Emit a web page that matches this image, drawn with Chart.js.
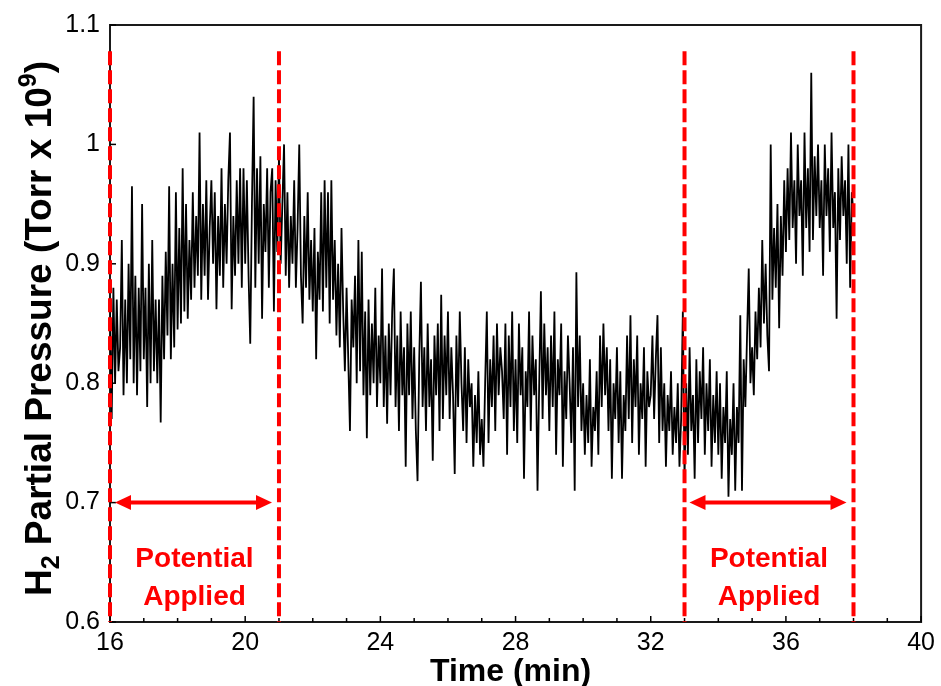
<!DOCTYPE html>
<html>
<head>
<meta charset="utf-8">
<script src="https://cdn.jsdelivr.net/npm/chart.js@4.4.1/dist/chart.umd.min.js"></script>
<style>
html, body { margin: 0; padding: 0; background: #fff; }
#wrap { width: 941px; height: 686px; position: relative; }
</style>
</head>
<body>
<div id="wrap"><canvas id="c"></canvas></div>
<script>
// ---------- data ----------
const sampleStartMin = 16;
const sampleStepMin = 0.05;
const pressure = [
  // 16
  0.86, 0.77, 0.88, 0.80, 0.87, 0.81, 0.83, 0.92, 0.79, 0.87, 0.80, 0.90, 0.82, 0.965, 0.80, 0.89, 0.79, 0.88, 0.81, 0.95,
  // 17
  0.82, 0.88, 0.78, 0.90, 0.80, 0.92, 0.81, 0.87, 0.80, 0.87, 0.767, 0.89, 0.82, 0.91, 0.84, 0.965, 0.82, 0.90, 0.83, 0.96,
  // 18
  0.845, 0.93, 0.85, 0.98, 0.86, 0.95, 0.854, 0.92, 0.87, 0.96, 0.88, 0.94, 0.89, 1.01, 0.87, 0.95, 0.89, 0.97, 0.87, 0.93,
  // 19
  0.97, 0.90, 0.96, 0.862, 0.94, 0.89, 0.98, 0.88, 0.95, 0.90, 0.97, 1.01, 0.862, 0.94, 0.89, 0.97, 0.90, 0.98, 0.88, 0.98,
  // 20
  0.90, 0.97, 0.89, 0.833, 0.95, 1.04, 0.88, 0.98, 0.90, 0.99, 0.854, 0.95, 0.91, 0.98, 0.88, 0.96, 0.98, 0.86, 0.97, 0.91,
  // 21
  0.99, 0.90, 0.95, 1.00, 0.89, 0.96, 0.88, 0.94, 0.90, 0.97, 0.88, 0.93, 1.00, 0.89, 0.85, 0.94, 0.88, 0.96, 0.87, 0.92,
  // 22
  0.86, 0.93, 0.82, 0.91, 0.87, 0.96, 0.86, 0.97, 0.88, 0.96, 0.85, 0.97, 0.87, 0.92, 0.84, 0.90, 0.83, 0.93, 0.86, 0.81,
  // 23
  0.88, 0.82, 0.76, 0.87, 0.83, 0.89, 0.80, 0.92, 0.81, 0.91, 0.79, 0.86, 0.754, 0.87, 0.79, 0.85, 0.80, 0.88, 0.78, 0.84,
  // 24
  0.80, 0.896, 0.78, 0.84, 0.766, 0.85, 0.79, 0.86, 0.896, 0.78, 0.84, 0.76, 0.86, 0.79, 0.83, 0.73, 0.85, 0.79, 0.86, 0.77,
  // 25
  0.83, 0.76, 0.718, 0.82, 0.885, 0.78, 0.83, 0.76, 0.85, 0.78, 0.82, 0.735, 0.84, 0.79, 0.85, 0.76, 0.874, 0.77, 0.84, 0.79,
  // 26
  0.86, 0.77, 0.83, 0.79, 0.724, 0.84, 0.78, 0.86, 0.80, 0.76, 0.83, 0.75, 0.82, 0.78, 0.80, 0.73, 0.79, 0.75, 0.81, 0.74,
  // 27
  0.77, 0.73, 0.80, 0.86, 0.75, 0.82, 0.78, 0.84, 0.76, 0.85, 0.79, 0.83, 0.81, 0.77, 0.85, 0.74, 0.84, 0.78, 0.86, 0.76,
  // 28
  0.82, 0.75, 0.85, 0.79, 0.83, 0.72, 0.81, 0.78, 0.86, 0.76, 0.84, 0.79, 0.82, 0.71, 0.80, 0.877, 0.77, 0.85, 0.79, 0.83,
  // 29
  0.76, 0.84, 0.78, 0.86, 0.74, 0.82, 0.79, 0.85, 0.73, 0.81, 0.77, 0.84, 0.80, 0.75, 0.83, 0.71, 0.893, 0.78, 0.84, 0.76,
  // 30
  0.80, 0.74, 0.79, 0.75, 0.82, 0.73, 0.78, 0.76, 0.81, 0.74, 0.84, 0.78, 0.85, 0.79, 0.83, 0.76, 0.82, 0.72, 0.80, 0.77,
  // 31
  0.83, 0.75, 0.81, 0.72, 0.79, 0.76, 0.84, 0.77, 0.857, 0.75, 0.82, 0.78, 0.84, 0.74, 0.80, 0.77, 0.83, 0.73, 0.81, 0.78,
  // 32
  0.79, 0.84, 0.77, 0.82, 0.857, 0.75, 0.83, 0.76, 0.80, 0.73, 0.79, 0.76, 0.81, 0.74, 0.78, 0.75, 0.80, 0.73, 0.77, 0.86,
  // 33
  0.72, 0.80, 0.74, 0.83, 0.76, 0.79, 0.72, 0.82, 0.75, 0.81, 0.77, 0.83, 0.74, 0.80, 0.76, 0.82, 0.73, 0.79, 0.75, 0.81,
  // 34
  0.74, 0.80, 0.72, 0.78, 0.75, 0.81, 0.705, 0.77, 0.74, 0.80, 0.71, 0.78, 0.75, 0.857, 0.71, 0.82, 0.78, 0.84, 0.896, 0.80,
  // 35
  0.83, 0.79, 0.86, 0.82, 0.88, 0.83, 0.92, 0.85, 0.90, 0.84, 0.81, 1.00, 0.87, 0.93, 0.88, 0.95, 0.846, 0.94, 0.89, 0.97,
  // 36
  0.91, 0.98, 0.92, 1.01, 0.93, 0.97, 0.90, 1.00, 0.94, 0.97, 0.89, 1.01, 0.93, 0.98, 0.91, 1.06, 0.92, 0.99, 0.94, 1.00,
  // 37
  0.93, 0.97, 0.89, 1.00, 0.94, 0.98, 0.91, 1.01, 0.93, 0.96, 0.854, 0.98, 0.92, 0.99, 0.94, 0.97, 0.90, 1.00, 0.88, 0.96,
  // 38
  0.94
];
const potentialStart = [16, 33];
const potentialEnd = [21, 38];
const markerTop = 1.078;
const arrowLevel = 0.7;
const annotationLines = ['Potential', 'Applied'];
const xRange = [16, 40];
const xMajorStep = 4;
const xMinorStep = 1;
const yRange = [0.6, 1.1];
const yMajorStep = 0.1;
const xTitle = 'Time (min)';
const yTitleParts = [
  { t: 'H', kind: 'main' },
  { t: '2', kind: 'sub' },
  { t: ' Partial Pressure (Torr x 10', kind: 'main' },
  { t: '9', kind: 'sup' },
  { t: ')', kind: 'main' }
];

// ---------- build datasets ----------
const seriesPoints = pressure.map((v, i) => ({ x: sampleStartMin + i * sampleStepMin, y: v }));
const RED = '#ff0000';
const FONT = '"Liberation Sans", Arial, Helvetica, sans-serif';

const markerSets = potentialStart.concat(potentialEnd).map(xv => ({
  data: [{ x: xv, y: markerTop }, { x: xv, y: yRange[0] }],
  borderColor: RED,
  borderWidth: 4,
  borderDash: [14, 5],
  pointRadius: 0,
  tension: 0,
  order: 1,
  clip: 8
}));

const decor = {
  id: 'decor',
  beforeDatasetsDraw(chart) {
    const { ctx, chartArea: a, scales: { x, y } } = chart;
    ctx.save();
    ctx.strokeStyle = '#1a1a1a';
    ctx.lineWidth = 2;
    ctx.strokeRect(a.left, a.top, a.right - a.left, a.bottom - a.top);
    ctx.lineWidth = 1.5;
    ctx.strokeStyle = '#000';
    for (let v = xRange[0]; v <= xRange[1]; v += xMinorStep) {
      const px = x.getPixelForValue(v);
      const len = (v - xRange[0]) % xMajorStep === 0 ? 6 : 4;
      ctx.beginPath(); ctx.moveTo(px, a.bottom); ctx.lineTo(px, a.bottom - len); ctx.stroke();
    }
    y.ticks.forEach(t => {
      const py = y.getPixelForValue(t.value);
      ctx.beginPath(); ctx.moveTo(a.left, py); ctx.lineTo(a.left + 6, py); ctx.stroke();
    });
    ctx.restore();
  },
  afterDatasetsDraw(chart) {
    const { ctx, chartArea: a, scales: { x, y } } = chart;
    ctx.save();
    ctx.strokeStyle = RED;
    ctx.fillStyle = RED;
    const ay = y.getPixelForValue(arrowLevel);
    potentialStart.forEach((s, i) => {
      const xs = x.getPixelForValue(s), xe = x.getPixelForValue(potentialEnd[i]);
      const x0 = xs + 5, x1 = xe - 7;
      ctx.lineWidth = 4;
      ctx.beginPath(); ctx.moveTo(x0 + 10, ay); ctx.lineTo(x1 - 10, ay); ctx.stroke();
      ctx.beginPath(); ctx.moveTo(x0, ay); ctx.lineTo(x0 + 16, ay - 7.5); ctx.lineTo(x0 + 16, ay + 7.5); ctx.closePath(); ctx.fill();
      ctx.beginPath(); ctx.moveTo(x1, ay); ctx.lineTo(x1 - 16, ay - 7.5); ctx.lineTo(x1 - 16, ay + 7.5); ctx.closePath(); ctx.fill();
      const cx = (xs + xe) / 2;
      ctx.font = 'bold 28px ' + FONT;
      ctx.textAlign = 'center';
      ctx.textBaseline = 'middle';
      ctx.fillText(annotationLines[0], cx, a.bottom - 63);
      ctx.fillText(annotationLines[1], cx, a.bottom - 25);
    });
    ctx.restore();
  },
  afterDraw(chart) {
    const { ctx, chartArea: a } = chart;
    ctx.save();
    ctx.fillStyle = '#000';
    // x title
    ctx.font = 'bold 32px ' + FONT;
    ctx.textAlign = 'center';
    ctx.textBaseline = 'alphabetic';
    ctx.fillText(xTitle, (a.left + a.right) / 2 - 5, a.bottom + 59);
    // y title (rotated) with sub/superscript
    const fonts = { main: 'bold 37px ' + FONT, sub: 'bold 25px ' + FONT, sup: 'bold 25px ' + FONT };
    const shift = { main: 0, sub: 8, sup: -15 };
    let total = 0;
    yTitleParts.forEach(p => { ctx.font = fonts[p.kind]; p.w = ctx.measureText(p.t).width; total += p.w; });
    ctx.translate(51, (a.top + a.bottom) / 2 + 5);
    ctx.rotate(-Math.PI / 2);
    ctx.textAlign = 'left';
    let cx = -total / 2;
    yTitleParts.forEach(p => {
      ctx.font = fonts[p.kind];
      ctx.fillText(p.t, cx, shift[p.kind]);
      cx += p.w;
    });
    ctx.restore();
  }
};

new Chart(document.getElementById('c'), {
  type: 'line',
  data: {
    datasets: [
      {
        data: seriesPoints,
        borderColor: '#000',
        borderWidth: 1.8,
        pointRadius: 0,
        tension: 0,
        order: 2
      },
      ...markerSets
    ]
  },
  options: {
    responsive: true,
    maintainAspectRatio: false,
    animation: false,
    events: [],
    layout: { padding: { top: 23, right: 18, left: 0, bottom: 0 } },
    plugins: { legend: { display: false }, tooltip: { enabled: false } },
    scales: {
      x: {
        type: 'linear',
        min: xRange[0],
        max: xRange[1],
        grid: { display: false, drawTicks: false, tickLength: 0 },
        border: { display: false },
        ticks: { stepSize: xMajorStep, color: '#000', padding: 6, font: { family: FONT, size: 25 }, maxRotation: 0 },
        afterFit(s) { s.height = 64; }
      },
      y: {
        type: 'linear',
        min: yRange[0],
        max: yRange[1],
        grid: { display: false, drawTicks: false, tickLength: 0 },
        border: { display: false },
        ticks: {
          stepSize: yMajorStep, color: '#000', padding: 10, font: { family: FONT, size: 25 },
          callback: v => String(Number(v.toFixed(2)))
        },
        afterFit(s) { s.width = 110; }
      }
    }
  },
  plugins: [decor]
});
</script>
</body>
</html>
